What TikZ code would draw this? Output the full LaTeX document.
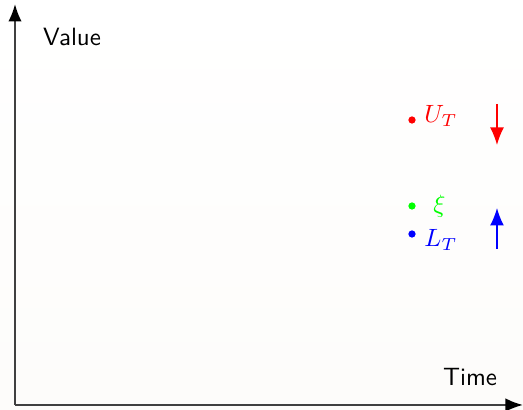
\documentclass[tikz,border=0pt]{standalone}
\usetikzlibrary{arrows.meta}
\begin{document}
\begin{tikzpicture}[x=0.4pt,y=-0.4pt,
  axis/.style={draw=black!75,line width=0.8pt,-{Latex[length=7pt,width=5.4pt,black]}},
  dot/.style={circle,fill,inner sep=0pt,minimum size=2.9pt},
  lbl/.style={inner sep=0pt,font=\sffamily},
  mlbl/.style={inner sep=0pt},
  move/.style={line width=0.6pt,-{Latex[length=7pt,width=5.6pt]}}]
\shade[top color=white,bottom color={rgb,255:red,253;green,252;blue,250}] (0,0) rectangle (523,410);
\useasboundingbox (0,0) rectangle (523,410);
\coordinate (O) at (15,405);
\coordinate (Y) at (15,4);
\coordinate (X) at (523,405);
\draw[axis] (O) -- (Y);
\draw[axis] (O) -- (X);
\node[lbl] (value) at (72,37) {Value};
\node[lbl] (time) at (470,377) {Time};
\node[dot,red] (u) at (412,120) {};
\node[dot,green] (xi) at (412,206) {};
\node[dot,blue] (l) at (412,234) {};
\node[mlbl,red,anchor=west] (ut) at (424,116) {$U_T$};
\node[mlbl,green,anchor=west] (xit) at (433,206) {$\xi$};
\node[mlbl,blue,anchor=west] (lt) at (424,240) {$L_T$};
\coordinate (r1) at (497,104);
\coordinate (r2) at (497,145);
\coordinate (b1) at (497,249);
\coordinate (b2) at (497,208);
\draw[move,red] (r1) -- (r2);
\draw[move,blue] (b1) -- (b2);
\end{tikzpicture}
\end{document}
